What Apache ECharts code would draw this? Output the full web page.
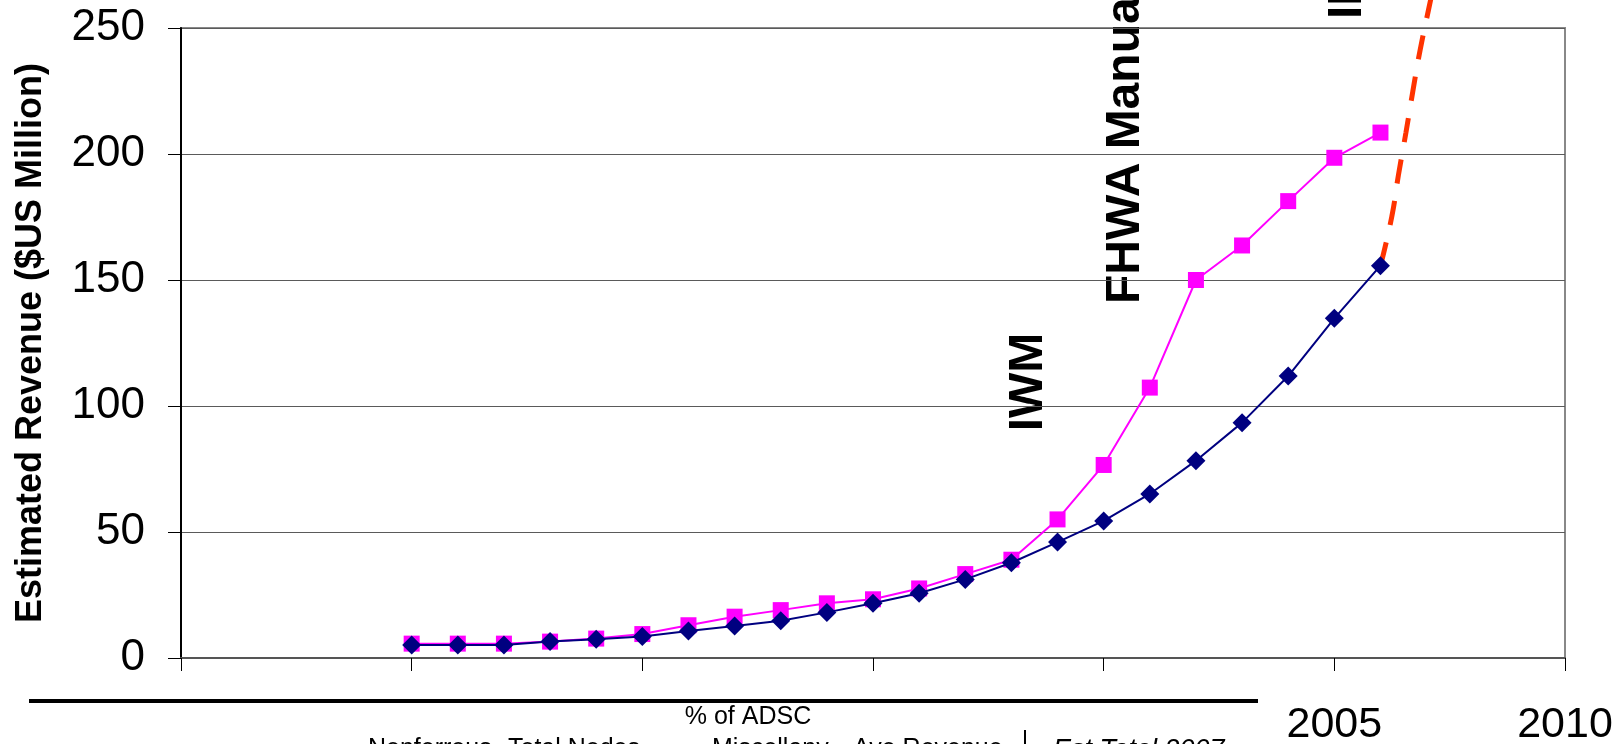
<!DOCTYPE html>
<html>
<head>
<meta charset="utf-8">
<script src="https://cdn.jsdelivr.net/npm/echarts@6/dist/echarts.min.js"></script>
<style>
html,body{margin:0;padding:0;background:#fff;}
#chart{width:1620px;height:744px;}
</style>
</head>
<body>
<div id="chart"></div>
<script>
// ---- data ----
const years = [1985,1986,1987,1988,1989,1990,1991,1992,1993,1994,1995,1996,1997,1998,1999,2000,2001,2002,2003,2004,2005,2006];
const magentaValues = [5.7,5.7,5.7,6.5,7.7,9.5,13,16.4,19,21.7,23.3,27.6,33.3,39,55,76.6,107.3,150,163.7,181.3,198.5,208.5];
const navyValues = [5.2,5.2,5.2,6.5,7.4,8.5,10.7,12.7,14.8,18.1,21.7,25.7,31.2,37.8,46,54.4,65.1,78.3,93.4,111.9,134.8,155.7];
const trendYears = [2006, 2006.245, 2006.39, 2006.55, 2006.7, 2006.86, 2007.04, 2007.12];
const trendValues = [155.7, 175.1, 191.7, 208.3, 224.7, 241.3, 257.1, 264];
const yTicks = [0, 50, 100, 150, 200, 250];
const xShownLabels = [2005, 2010];
const yAxisTitle = 'Estimated Revenue ($US Million)';
const annotations = ['IWM', 'FHWA Manual', 'II'];
const footerTitle = '% of ADSC';
const footerWords = ['Nonferrous', 'Total Nodes', 'Miscellany', 'Ave Revenue', 'Est Total 2007'];

const pair = (xs, ys) => xs.map((x, i) => [x, ys[i]]);

const chart = echarts.init(document.getElementById('chart'), null, {renderer: 'canvas'});
const FONT = '"Liberation Sans", Arial, sans-serif';

const option = {
  animation: false,
  backgroundColor: '#fff',
  grid: {left: 181, right: 55, top: 28, bottom: 86, outerBoundsMode: 'none', containLabel: false,
         show: true, borderColor: '#888', borderWidth: 2, backgroundColor: 'transparent'},
  xAxis: {
    type: 'value', min: 1980, max: 2010, interval: 5,
    axisLine: {show: true, onZero: false, lineStyle: {color: '#555', width: 2}},
    axisTick: {show: true, length: 13, lineStyle: {color: '#000', width: 1}},
    splitLine: {show: false},
    axisLabel: {
      margin: 46, fontSize: 43, color: '#000', fontFamily: FONT,
      formatter: v => xShownLabels.indexOf(v) >= 0 ? String(v) : ''
    }
  },
  yAxis: {
    type: 'value', min: yTicks[0], max: yTicks[yTicks.length - 1], interval: 50,
    name: yAxisTitle, nameLocation: 'middle', nameGap: 132,
    nameTextStyle: {fontSize: 36, fontWeight: 'bold', color: '#000', fontFamily: FONT},
    axisLine: {show: true, lineStyle: {color: '#000', width: 2}},
    axisTick: {show: true, length: 13, lineStyle: {color: '#000', width: 1}},
    splitLine: {show: true, lineStyle: {color: '#5a5a5a', width: 1}},
    axisLabel: {margin: 36, fontSize: 44, color: '#000', fontFamily: FONT}
  },
  series: [
    {
      type: 'line', data: pair(years, magentaValues),
      symbol: 'rect', symbolSize: 16, showAllSymbol: true,
      lineStyle: {color: '#FF00FF', width: 2},
      itemStyle: {color: '#FF00FF'}, z: 2
    },
    {
      type: 'line', data: pair(trendYears, trendValues),
      symbol: 'none', clip: false, smooth: true,
      lineStyle: {color: '#FF3300', width: 5, type: [24, 18]}, z: 3
    },
    {
      type: 'line', data: pair(years, navyValues),
      symbol: 'diamond', symbolSize: 19, showAllSymbol: true,
      lineStyle: {color: '#000080', width: 2},
      itemStyle: {color: '#000080'}, z: 4
    }
  ],
  graphic: [
    {type: 'text', x: 1029, y: 382, rotation: Math.PI / 2,
     style: {text: annotations[0], font: 'bold 48px ' + FONT, fill: '#000', align: 'center', verticalAlign: 'middle'}},
    {type: 'text', x: 1126, y: 304, rotation: Math.PI / 2,
     style: {text: annotations[1], font: 'bold 48px ' + FONT, fill: '#000', align: 'left', verticalAlign: 'middle'}},
    {type: 'text', x: 1348, y: 19, rotation: Math.PI / 2,
     style: {text: annotations[2], font: 'bold 48px ' + FONT, fill: '#000', align: 'left', verticalAlign: 'middle'}},
    {type: 'rect', shape: {x: 29, y: 699, width: 1229, height: 4}, style: {fill: '#000'}},
    {type: 'text', x: 748, y: 705,
     style: {text: footerTitle, font: '25px ' + FONT, fill: '#000', align: 'center', verticalAlign: 'top'}},
    {type: 'text', x: 368, y: 737, style: {text: footerWords[0], font: '25px ' + FONT, fill: '#000', align: 'left', verticalAlign: 'top'}},
    {type: 'text', x: 508, y: 737, style: {text: footerWords[1], font: '25px ' + FONT, fill: '#000', align: 'left', verticalAlign: 'top'}},
    {type: 'text', x: 712, y: 737, style: {text: footerWords[2], font: '25px ' + FONT, fill: '#000', align: 'left', verticalAlign: 'top'}},
    {type: 'text', x: 853, y: 737, style: {text: footerWords[3], font: '25px ' + FONT, fill: '#000', align: 'left', verticalAlign: 'top'}},
    {type: 'line', shape: {x1: 1025, y1: 730, x2: 1025, y2: 744}, style: {stroke: '#000', lineWidth: 2}},
    {type: 'text', x: 1053, y: 737, style: {text: footerWords[4], font: 'italic 27px ' + FONT, fill: '#000', align: 'left', verticalAlign: 'top'}}
  ]
};
chart.setOption(option);
</script>
</body>
</html>
